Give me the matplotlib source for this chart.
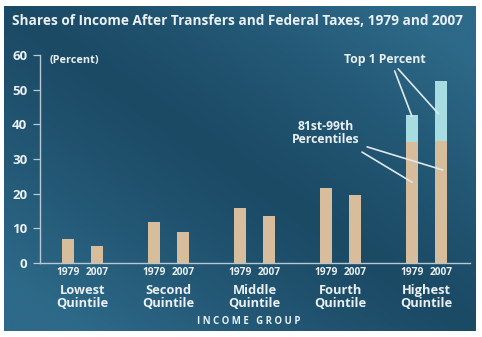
import numpy as np
import matplotlib
matplotlib.use("Agg")
import matplotlib.pyplot as plt
from matplotlib.colors import LinearSegmentedColormap

# Data (percent of after-tax income)
groups = ["Lowest\nQuintile", "Second\nQuintile", "Middle\nQuintile",
          "Fourth\nQuintile", "Highest\nQuintile"]
years = ["1979", "2007"]
share_1979 = [7.0, 11.8, 16.0, 21.7, 34.8]
share_2007 = [4.9, 9.0, 13.6, 19.7, 35.3]
top1_1979 = [0, 0, 0, 0, 7.8]
top1_2007 = [0, 0, 0, 0, 17.2]
yticks = [0, 10, 20, 30, 40, 50, 60]

TAN = "#d8bd9d"
CYAN = "#a7dde1"
TXT = "#eaf0f3"
AXC = "#b9c9d1"
FONT = "Open Sans"

W, H = 482, 337
fig = plt.figure(figsize=(W / 100, H / 100), dpi=100, facecolor="white")

# background panel with diagonal shading
bg = fig.add_axes([4 / W, 1 - 331 / H, 472 / W, 325 / H])
ny, nx = 200, 300
yy, xx = np.mgrid[0:1:ny * 1j, 0:1:nx * 1j]
d = (xx - yy)  # distance from top-left/bottom-right diagonal
g = np.clip(np.abs(d) ** 1.2 * 1.25, 0, 1)
cmap = LinearSegmentedColormap.from_list("panel", ["#1b4a65", "#2d6988"])
bg.imshow(g, cmap=cmap, aspect="auto", extent=[0, 1, 0, 1], origin="upper",
          interpolation="bicubic")
bg.set_axis_off()

# main plotting area
ax = fig.add_axes([40 / W, (H - 263) / H, 430 / W, 208 / H])
ax.patch.set_alpha(0)
x = np.arange(len(groups))
off, bw = 0.169, 0.14
ax.bar(x - off, share_1979, bw, color=TAN, zorder=3)
ax.bar(x + off, share_2007, bw, color=TAN, zorder=3)
ax.bar(x - off, top1_1979, bw, bottom=share_1979, color=CYAN, zorder=3)
ax.bar(x + off, top1_2007, bw, bottom=share_2007, color=CYAN, zorder=3)

ax.set_xlim(-0.494, 4.506)
ax.set_ylim(0, 60)
ax.set_yticks(yticks)
ax.set_yticklabels([str(t) for t in yticks], fontsize=9.5, fontweight="bold",
                   color=TXT, family=FONT)
ax.tick_params(axis="y", length=5, width=0.9, color=AXC, pad=4)
ax.set_xticks([])
for s in ["top", "right"]:
    ax.spines[s].set_visible(False)
for s in ["left", "bottom"]:
    ax.spines[s].set_color(AXC)
    ax.spines[s].set_linewidth(1.0)

# year labels and group names under the axis
for i in x:
    for j, yr in enumerate(years):
        ax.text(i + (2 * j - 1) * off, -2.6, yr, ha="center", va="center",
                fontsize=7.3, fontweight="bold", color=TXT, family=FONT)
    ax.text(i, -9.8, groups[i], ha="center", va="center", fontsize=9.3,
            fontweight="bold", color=TXT, family=FONT, linespacing=1.08)

fig.text(249 / W, 1 - 321 / H, "I N C O M E   G R O U P", ha="center",
         va="center", fontsize=6.9, fontweight="bold", color=TXT, family=FONT)

fig.text(12 / W, 1 - 21 / H,
         "Shares of Income After Transfers and Federal Taxes, 1979 and 2007",
         ha="left", va="center", fontsize=9.8, fontweight="bold",
         color=TXT, family=FONT)

ax.text(-0.38, 58.3, "(Percent)", ha="left", va="center", fontsize=7.8,
        fontweight="bold", color=TXT, family=FONT)

# callouts for the highest quintile segments
lkw = dict(color="#dfe8ec", lw=1.2, solid_capstyle="round", zorder=4)
hi = 4
ax.text(3.52, 58.8, "Top 1 Percent", ha="center", va="center", fontsize=8.8,
        fontweight="bold", color=TXT, family=FONT)
ax.plot([3.63, hi - off], [55.4, share_1979[hi] + top1_1979[hi] - 0.3], **lkw)
ax.plot([3.67, hi + off - 0.03], [56.0, share_2007[hi] + top1_2007[hi] * 0.45], **lkw)

ax.text(2.83, 37.5, "81st-99th\nPercentiles", ha="center", va="center",
        fontsize=8.8, fontweight="bold", color=TXT, family=FONT,
        linespacing=1.0)
ax.plot([3.31, hi + off + 0.02], [33.5, share_2007[hi] * 0.76], **lkw)
ax.plot([3.25, hi - off], [32.0, share_1979[hi] * 0.67], **lkw)

fig.savefig("out.png", dpi=100, facecolor="white")
